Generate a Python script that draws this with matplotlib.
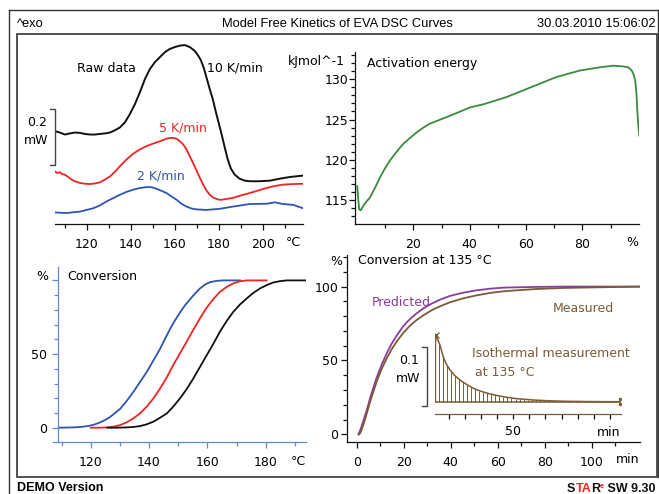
import matplotlib
matplotlib.use("Agg")
import matplotlib.pyplot as plt
import numpy as np
from matplotlib.lines import Line2D
from matplotlib.patches import Rectangle
from matplotlib.ticker import FixedLocator

W, H = 659, 494

# raw DSC curves: temperature (°C) and heat flow (mW, exo up, shifted)
temp_10 = [105.5, 107.7, 110.0, 112.3, 114.5, 116.8, 119.1, 121.4, 123.6, 125.9,
           128.2, 130.5, 132.7, 135.0, 137.3, 139.5, 141.8, 144.1, 146.4, 148.6,
           150.9, 153.2, 155.5, 157.7, 160.0, 162.3, 164.5, 166.8, 169.1, 170.5,
           171.8, 173.2, 174.5, 175.9, 177.3, 178.6, 180.0, 181.4, 182.7, 184.1,
           185.5, 187.3, 189.5, 191.8, 194.1, 198.6, 203.2, 207.7, 212.3, 218.2]
hf_10 = [0.326, 0.321, 0.314, 0.318, 0.321, 0.320, 0.316, 0.314, 0.314, 0.316,
         0.318, 0.321, 0.329, 0.339, 0.357, 0.386, 0.421, 0.464, 0.511, 0.546,
         0.571, 0.589, 0.607, 0.618, 0.625, 0.630, 0.632, 0.625, 0.611, 0.596,
         0.579, 0.550, 0.514, 0.475, 0.439, 0.396, 0.354, 0.311, 0.268, 0.225,
         0.193, 0.171, 0.157, 0.150, 0.148, 0.148, 0.150, 0.157, 0.163, 0.168]

temp_5 = [105.5, 106.5, 107.7, 108.8, 110.0, 111.5, 113.0, 114.5, 116.8, 119.1,
          121.4, 123.6, 125.9, 128.2, 130.5, 132.7, 135.0, 138.0, 141.1, 144.1,
          147.1, 150.2, 153.2, 156.2, 157.7, 159.2, 160.8, 162.3, 163.8, 165.3,
          166.8, 168.3, 169.8, 171.4, 172.9, 174.4, 175.9, 177.4, 179.7, 181.2,
          183.5, 186.5, 190.3, 194.1, 197.9, 201.7, 205.5, 209.2, 213.8, 218.3]
hf_5 = [0.183, 0.177, 0.180, 0.173, 0.171, 0.163, 0.154, 0.148, 0.142, 0.139,
        0.138, 0.140, 0.144, 0.154, 0.165, 0.181, 0.201, 0.225, 0.246, 0.261,
        0.273, 0.282, 0.290, 0.299, 0.302, 0.302, 0.299, 0.290, 0.279, 0.261,
        0.237, 0.213, 0.187, 0.160, 0.136, 0.115, 0.100, 0.090, 0.083, 0.082,
        0.085, 0.089, 0.098, 0.106, 0.115, 0.124, 0.131, 0.136, 0.138, 0.139]

temp_2 = [105.5, 110.8, 116.8, 122.9, 125.9, 128.9, 132.0, 135.0, 138.0, 141.1,
          144.1, 147.1, 149.4, 151.7, 153.9, 156.2, 158.5, 160.8, 163.0, 165.3,
          167.6, 169.8, 174.4, 180.5, 186.5, 194.1, 201.7, 205.5, 209.2, 213.8, 218.3]
hf_2 = [0.037, 0.035, 0.040, 0.052, 0.062, 0.076, 0.088, 0.100, 0.110, 0.118,
        0.124, 0.127, 0.127, 0.121, 0.114, 0.106, 0.094, 0.082, 0.068, 0.058,
        0.051, 0.048, 0.046, 0.050, 0.058, 0.067, 0.068, 0.073, 0.067, 0.064, 0.052]
SCALE_DSC = 0.2  # mW

# activation energy vs conversion
ea_conv = [0.1, 0.5, 0.8, 1.3, 2.3, 3.4, 4.6, 6.4, 8.2, 9.9, 11.7, 14.1, 16.5,
           18.8, 21.2, 23.6, 25.9, 28.9, 31.8, 36.0, 40.1, 44.9, 49.6, 53.1, 56.7,
           60.2, 63.8, 67.3, 70.9, 75.0, 79.2, 82.7, 86.3, 91.0, 94.6, 96.3, 97.5,
           98.3, 98.8, 99.2, 99.5, 99.9, 100.2]
ea_kj = [116.7, 114.9, 113.8, 113.7, 114.3, 114.8, 115.3, 116.5, 117.8, 118.9,
         119.9, 121.0, 122.0, 122.7, 123.4, 124.0, 124.5, 124.9, 125.3, 125.9,
         126.5, 126.9, 127.4, 127.8, 128.3, 128.8, 129.3, 129.8, 130.3, 130.7,
         131.1, 131.3, 131.5, 131.7, 131.6, 131.5, 131.1, 130.5, 129.7, 128.2,
         126.1, 124.0, 123.0]

# conversion curves (°C, %)
conv_t2 = [108.9, 111.8, 115.2, 117.5, 119.8, 121.5, 123.2, 124.9, 126.6, 128.3,
           130.1, 132.3, 134.6, 136.9, 139.2, 141.5, 143.8, 145.5, 147.2, 148.9,
           150.6, 152.3, 154.1, 155.8, 157.5, 159.2, 160.9, 163.2, 165.5, 168.9, 171.2]
conv_2 = [0.0, 0.1, 0.3, 0.7, 1.4, 2.3, 3.6, 5.2, 7.2, 9.9, 12.8, 18.1, 24.2, 31.0,
          37.8, 45.7, 53.6, 60.4, 67.0, 72.9, 78.2, 83.0, 87.3, 91.2, 94.6, 97.2,
          98.8, 99.7, 100.0, 100.0, 100.0]
conv_t5 = [120.0, 123.2, 125.5, 127.8, 130.1, 132.3, 134.6, 136.9, 139.2, 141.5,
           143.8, 146.1, 148.3, 150.6, 152.9, 155.2, 157.5, 159.8, 162.1, 164.3,
           166.6, 168.9, 171.2, 173.5, 176.9, 180.3]
conv_5 = [0.0, 0.0, 0.2, 0.7, 1.8, 3.6, 6.3, 9.7, 14.3, 19.9, 26.7, 34.2, 42.5,
          50.5, 58.4, 66.6, 74.4, 81.6, 87.5, 92.2, 95.6, 98.0, 99.4, 100.0, 100.0, 100.0]
conv_t10 = [125.7, 128.9, 132.3, 134.6, 136.9, 139.2, 141.5, 143.8, 146.1, 148.3,
            150.6, 152.9, 155.2, 157.5, 159.8, 162.1, 164.3, 166.6, 168.9, 171.2,
            173.5, 175.8, 178.1, 180.3, 182.6, 184.9, 187.2, 190.6, 193.8]
conv_10 = [0.0, 0.0, 0.2, 0.5, 1.1, 2.3, 4.1, 6.8, 9.7, 14.3, 19.9, 26.2, 33.5,
           41.4, 49.3, 57.2, 65.2, 72.4, 78.7, 83.7, 87.8, 91.6, 94.6, 96.8, 98.6,
           99.5, 100.0, 100.0, 100.0]

# isothermal conversion at 135 °C (min, %)
pred_time = [0.7, 1.4, 2.1, 2.8, 4.3, 5.7, 7.1, 8.5, 10.6, 12.8, 14.9, 17.0, 19.9,
             22.7, 25.5, 28.4, 31.9, 35.5, 39.7, 45.4, 51.1, 56.7, 62.4, 68.1,
             76.6, 87.9, 102.1, 120.6]
pred_conv = [0.0, 2.3, 5.6, 9.0, 16.5, 24.4, 31.6, 38.4, 47.0, 54.9, 61.4, 66.8,
             73.4, 78.1, 81.9, 85.3, 88.5, 91.2, 93.7, 95.9, 97.5, 98.6, 99.3,
             99.5, 99.8, 100.0, 100.0, 100.0]
meas_time = [1.1, 1.8, 2.8, 4.3, 5.7, 7.1, 8.5, 10.6, 12.8, 14.9, 17.0, 19.9,
             22.7, 25.5, 28.4, 31.9, 35.5, 39.7, 45.4, 51.1, 56.7, 62.4, 68.1,
             76.6, 87.9, 102.1, 116.3, 120.6]
meas_conv = [0.0, 1.8, 6.3, 14.2, 22.1, 28.9, 35.7, 44.2, 51.5, 57.6, 62.8, 68.8,
             73.6, 77.4, 80.6, 84.0, 86.7, 89.4, 92.1, 94.1, 95.7, 96.8, 97.5,
             98.4, 99.1, 99.5, 99.9, 100.0]

# isothermal heat flow at 135 °C (min, mW above baseline)
iso_time = [1.4, 2.0, 3.0, 4.5, 6.5, 8.5, 10.7, 13.5, 16.9, 20.5, 25.2, 30.0,
            35.0, 40.0, 45.9, 52.0, 62.4, 72.0, 83.2, 95.0, 105.0, 116.3]
iso_hf = [0.095, 0.1125, 0.105, 0.0956, 0.0759, 0.063, 0.0535, 0.0445, 0.0366,
          0.030, 0.0226, 0.0175, 0.0135, 0.0105, 0.0074, 0.0052, 0.0029, 0.0016,
          0.0007, 0.0003, 0.0001, 0.0]
SCALE_ISO = 0.1  # mW

BLACK = '#111111'
RED = '#ee2424'
BLUE = '#2d55b0'
GREEN = '#3b8a3e'
PURPLE = '#8b3a9e'
BROWN = '#7b5a36'
AXBLUE = '#6688cc'
FRAME = '#333333'

fig = plt.figure(figsize=(W / 100, H / 100), dpi=100)


def px_box(l, t, r, b):
    return [l / W, 1 - b / H, (r - l) / W, (b - t) / H]


def px_text(x, y, s, **kw):
    kw.setdefault('fontsize', 9)
    kw.setdefault('va', 'center')
    return fig.text(x / W, 1 - y / H, s, **kw)


def px_line(xs, ys, **kw):
    kw.setdefault('color', FRAME)
    kw.setdefault('lw', 1.0)
    fig.add_artist(Line2D([x / W for x in xs], [1 - y / H for y in ys], **kw))


def setup(ax, xmaj, xmin, ymaj=None, ymin=None, col=BLACK, ypad=2):
    ax.patch.set_visible(False)
    for s in ('top', 'right'):
        ax.spines[s].set_visible(False)
    for s in ('left', 'bottom'):
        ax.spines[s].set_color(col)
        ax.spines[s].set_linewidth(0.9)
    ax.xaxis.set_major_locator(FixedLocator(xmaj))
    ax.xaxis.set_minor_locator(FixedLocator(xmin))
    if ymaj is None:
        ax.spines['left'].set_visible(False)
        ax.set_yticks([])
    else:
        ax.yaxis.set_major_locator(FixedLocator(ymaj))
        ax.yaxis.set_minor_locator(FixedLocator(ymin))
    ax.tick_params(which='both', direction='out', color=col, width=0.9,
                   labelsize=9, labelcolor='black')
    ax.tick_params(which='major', length=4)
    ax.tick_params(which='minor', length=3)
    ax.tick_params(axis='x', pad=6)
    ax.tick_params(axis='y', pad=ypad)


# frame and header
px_line([9, 9], [10, 494])
px_line([9, 658], [10, 10])
px_line([658, 658], [10, 477])
fig.add_artist(Rectangle((17 / W, 1 - 477 / H), 640 / W, 443 / H,
                         transform=fig.transFigure, fill=False, ec=FRAME, lw=1.2))
head = dict(family='Liberation Sans', fontsize=9.3)
px_text(17, 24, '^exo', ha='left', **head)
px_text(337, 24, 'Model Free Kinetics of EVA DSC Curves', ha='center', **head)
px_text(656, 24, '30.03.2010 15:06:02', ha='right', **head)
px_text(17, 488, 'DEMO Version', ha='left', family='Liberation Sans',
        fontsize=9, weight='bold')

# raw data
ax1 = fig.add_axes(px_box(55, 40, 303, 224))
ax1.plot(temp_10, hf_10, color=BLACK, lw=1.4)
ax1.plot(temp_5, hf_5, color=RED, lw=1.3)
ax1.plot(temp_2, hf_2, color=BLUE, lw=1.3)
ax1.set_xlim(105.5, 218.3)
ax1.set_ylim(-0.004, 0.650)
setup(ax1, [120, 140, 160, 180, 200], [110, 130, 150, 170, 190, 210])
bar_lo = 0.204
ax1.plot([-0.02, 0, 0, -0.02], [bar_lo + SCALE_DSC, bar_lo + SCALE_DSC, bar_lo, bar_lo],
         transform=ax1.get_yaxis_transform(), clip_on=False, color='#444444', lw=1)
px_text(47, 122, f'{SCALE_DSC:g}', ha='right')
px_text(48, 141, 'mW', ha='right')
px_text(77, 68, 'Raw data', ha='left')
px_text(207, 68, '10 K/min', ha='left')
px_text(159, 128, '5 K/min', ha='left', color=RED)
px_text(137, 176, '2 K/min', ha='left', color=BLUE)
px_text(293, 243, '°C', ha='center')

# activation energy
ax2 = fig.add_axes(px_box(355, 52, 639.3, 224))
ax2.plot(ea_conv, ea_kj, color=GREEN, lw=1.3)
ax2.set_xlim(-0.7, 100.2)
ax2.set_ylim(112.0, 133.4)
setup(ax2, [20, 40, 60, 80], [10, 30, 50, 70, 90],
      [115, 120, 125, 130], list(range(113, 134)), ypad=1)
px_text(345, 61, 'kJmol^-1', ha='right')
px_text(367, 64, 'Activation energy', ha='left')
px_text(632, 243, '%', ha='center')

# conversion vs temperature
ax3 = fig.add_axes(px_box(58.3, 267, 306, 441.7))
ax3.plot(conv_t2, conv_2, color=BLUE, lw=1.3)
ax3.plot(conv_t5, conv_5, color=RED, lw=1.3)
ax3.plot(conv_t10, conv_10, color=BLACK, lw=1.3)
ax3.set_xlim(108.9, 193.8)
ax3.set_ylim(-9.5, 109.1)
setup(ax3, [120, 140, 160, 180], [110, 130, 150, 170, 190],
      [0, 50, 100], list(range(10, 100, 10)), col=AXBLUE, ypad=4)
ax3.spines['bottom'].set_bounds(107.2, 193.8)
ax3.set_yticklabels(['0', '50', ''])
px_text(42, 277, '%', ha='center')
px_text(67, 277, 'Conversion', ha='left')
px_text(298, 461, '°C', ha='center')

# isothermal prediction
ax4 = fig.add_axes(px_box(346.7, 255, 640, 442.3))
ax4.plot(pred_time, pred_conv, color=PURPLE, lw=1.3)
ax4.plot(meas_time, meas_conv, color=BROWN, lw=1.3)
ax4.set_xlim(-4.26, 120.6)
ax4.set_ylim(-5.4, 121.4)
setup(ax4, [0, 20, 40, 60, 80, 100], list(range(10, 120, 20)),
      [0, 50, 100], [v for v in range(10, 130, 10) if v % 50], ypad=2)
px_text(336, 261, '%', ha='center')
px_text(358, 260, 'Conversion at 135 °C', ha='left')
px_text(372, 302, 'Predicted', ha='left', color=PURPLE)
px_text(553, 309, 'Measured', ha='left', color=BROWN)
px_text(628, 459, 'min', ha='center')

# inset: isothermal heat flow
ax5 = fig.add_axes(px_box(435, 325, 621, 414.3))
ax5.patch.set_visible(False)
for s in ('top', 'right', 'left'):
    ax5.spines[s].set_visible(False)
ax5.spines['bottom'].set_color(BROWN)
ax5.spines['bottom'].set_linewidth(0.9)
ax5.set_xlim(1.4, 116.9)
ax5.set_ylim(-0.0212, 0.1293)
ax5.set_yticks([])
ax5.xaxis.set_major_locator(FixedLocator([50]))
ax5.xaxis.set_minor_locator(FixedLocator([10, 20, 30, 40, 60, 70, 80, 90, 100, 110]))
ax5.tick_params(which='both', direction='out', color=BLACK, length=3.5, width=0.9,
                labelsize=9, pad=4)
hatch_t = np.arange(iso_time[0], iso_time[-1], 2.5)
ax5.vlines(hatch_t, 0, np.interp(hatch_t, iso_time, iso_hf), color=BROWN, lw=0.7)
ax5.plot(iso_time, iso_hf, color=BROWN, lw=1.1)
ax5.plot([iso_time[0], iso_time[-1]], [0, 0], color=BROWN, lw=1.1)
ax5.vlines(iso_time[0], 0, max(iso_hf), color=BROWN, lw=1.0)
ax5.plot(iso_time[int(np.argmax(iso_hf))], max(iso_hf), 'x', color=BROWN, ms=5, mew=1)
ax5.plot([iso_time[-1]] * 2, [0.004, -0.004], ls='none', marker='.', color=BROWN, ms=3)
bar_lo2 = -0.0073
ax5.plot([-0.068, -0.041, -0.041, -0.068],
         [bar_lo2 + SCALE_ISO, bar_lo2 + SCALE_ISO, bar_lo2, bar_lo2],
         transform=ax5.get_yaxis_transform(), clip_on=False, color='#444444', lw=1)
px_text(419, 360, f'{SCALE_ISO:g}', ha='right')
px_text(420, 378, 'mW', ha='right')
px_text(472, 353, 'Isothermal measurement', ha='left', color=BROWN)
px_text(475, 373, 'at 135 °C', ha='left', color=BROWN)
px_text(609, 432, 'min', ha='center')

# footer logo, laid out right to left with measured widths
foot = dict(family='Liberation Sans', fontsize=9, weight='bold', va='baseline')
renderer = fig.canvas.get_renderer()
x_right = 656
for piece, colour, size, rise in [(' SW 9.30', BLACK, 9, 0), ('e', RED, 5.5, 4),
                                  ('R', BLACK, 9, 0), ('TA', RED, 9, 0), ('S', BLACK, 9, 0)]:
    kw = dict(foot, fontsize=size)
    t = px_text(x_right, 492 - rise, piece, ha='right', color=colour, **kw)
    x_right -= t.get_window_extent(renderer).width

fig.savefig('out.png', dpi=100)
